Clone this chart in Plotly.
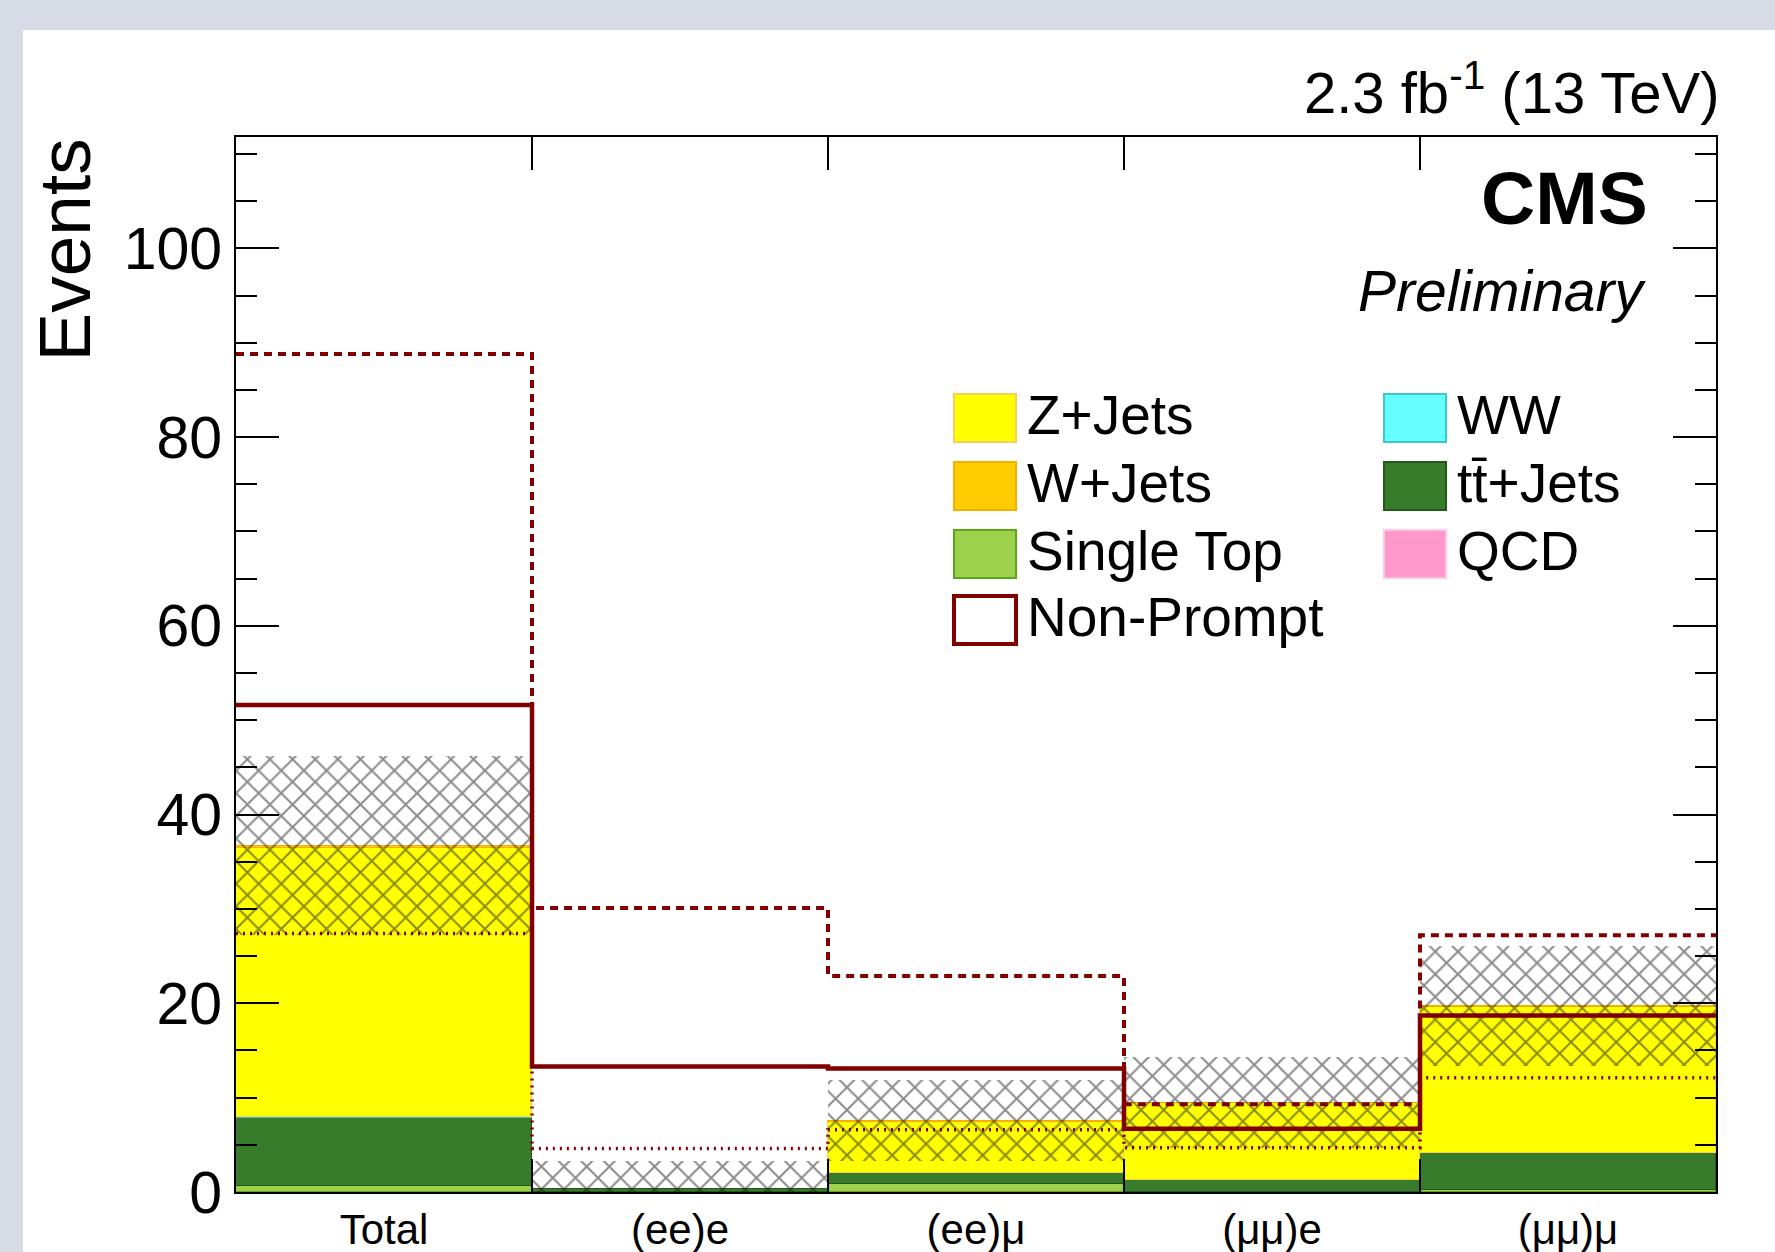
import plotly.graph_objects as go

# ---- data -----------------------------------------------------------------
categories = ["Total", "(ee)e", "(ee)μ", "(μμ)e", "(μμ)μ"]
bin_edges = [0, 1, 2, 3, 4, 5]

# stacked backgrounds (bottom to top)
single_top = [0.6, 0.05, 0.8, 0.03, 0.2]
ttbar_jets = [7.2, 0.25, 1.2, 1.25, 3.9]
ww = [0.1, 0.0, 0.0, 0.0, 0.0]
qcd = [0.0, 0.0, 0.0, 0.0, 0.0]
z_jets = [28.6, 0.0, 5.45, 8.15, 15.5]
w_jets = [0.2, 0.0, 0.1, 0.05, 0.1]
mc_unc = [9.5, 3.0, 4.3, 4.8, 6.4]

# non-prompt estimate with its up / down variations
non_prompt = [51.6, 13.3, 13.1, 6.7, 18.7]
non_prompt_up = [88.8, 30.1, 22.9, 9.3, 27.2]
non_prompt_down = [27.4, 4.6, 6.6, 4.7, 12.1]

y_major_ticks = [0, 20, 40, 60, 80, 100]

# ---- style ----------------------------------------------------------------
FONT = "Liberation Sans, Arial, Helvetica, sans-serif"
NP_RED = "#800000"
stack_specs = [
    ("Single Top", single_top, "#9DD14D", "#5FA51C"),
    ("tt̄+Jets", ttbar_jets, "#367C2B", "#24571C"),
    ("WW", ww, "#66FFFF", "#3CC8C8"),
    ("QCD", qcd, "#FF99CC", "#FFC8E4"),
    ("Z+Jets", z_jets, "#FFFF00", "#FFCC55"),
    ("W+Jets", w_jets, "#FFCC00", "#F5B000"),
]

W, H = 1775, 1252
ML, MR, MT, MB = 236, 59, 137, 60
PW, PH = W - ML - MR, H - MT - MB
Y_MAX = 111.8

def px_x(x):
    return (x - ML) / PW

def px_y(y):
    return (H - MB - y) / PH

centers = [(a + b) / 2 for a, b in zip(bin_edges[:-1], bin_edges[1:])]

fig = go.Figure()

# stacked histogram
for name, vals, fill, edge in stack_specs:
    fig.add_trace(go.Bar(
        x=centers, y=[v if v > 0 else None for v in vals], width=1,
        name=name, marker=dict(color=fill, line=dict(color=edge, width=1.5)),
        showlegend=False, hoverinfo="skip",
    ))

# hatched uncertainty band around the stack total
totals = [sum(s[1][i] for s in stack_specs) for i in range(len(categories))]
band_lo = [max(0.0, t - e) for t, e in zip(totals, mc_unc)]
band_hi = [t + e for t, e in zip(totals, mc_unc)]
fig.add_trace(go.Bar(
    x=centers, y=[h - l for h, l in zip(band_hi, band_lo)], base=band_lo, width=1,
    marker=dict(color="rgba(0,0,0,0)", line=dict(width=0),
                pattern=dict(shape="x", fgcolor="#1a1a1a", bgcolor="rgba(0,0,0,0)",
                             size=16, solidity=0.24)),
    showlegend=False, hoverinfo="skip",
))

# non-prompt outlines
def step(vals):
    return list(vals) + [vals[-1]]

fig.add_trace(go.Scatter(x=bin_edges, y=step(non_prompt_up), mode="lines",
                         line=dict(color=NP_RED, width=4, shape="hv", dash="8px,6px"),
                         showlegend=False, hoverinfo="skip"))
fig.add_trace(go.Scatter(x=bin_edges, y=step(non_prompt_down), mode="lines",
                         line=dict(color=NP_RED, width=3.5, shape="hv", dash="2px,5px"),
                         showlegend=False, hoverinfo="skip"))
fig.add_trace(go.Scatter(x=bin_edges, y=step(non_prompt), mode="lines",
                         line=dict(color=NP_RED, width=4.5, shape="hv"),
                         showlegend=False, hoverinfo="skip"))

# carrier for the category labels axis
fig.add_trace(go.Scatter(x=centers, y=[None] * len(centers), xaxis="x2",
                         mode="markers", showlegend=False, hoverinfo="skip"))

# ---- layout ---------------------------------------------------------------
fig.update_layout(
    width=W, height=H,
    margin=dict(l=ML, r=MR, t=MT, b=MB, pad=0, autoexpand=False),
    paper_bgcolor="#D6DBE6", plot_bgcolor="white",
    barmode="stack", bargap=0,
    font=dict(family=FONT, color="black"),
    xaxis=dict(range=[0, 5], tickvals=bin_edges, showticklabels=False,
               ticks="inside", ticklen=33, tickwidth=2, tickcolor="black",
               showline=True, linecolor="black", linewidth=2, mirror="ticks",
               showgrid=False, zeroline=False, layer="above traces", automargin=False),
    xaxis2=dict(range=[0, 5], overlaying="x", anchor="y", side="bottom",
                tickvals=centers, ticktext=categories, ticks="",
                ticklabelstandoff=9, automargin=False,
                tickfont=dict(size=42, family=FONT, color="black"),
                showline=False, showgrid=False, zeroline=False),
    yaxis=dict(range=[0, Y_MAX], tickvals=y_major_ticks,
               ticks="inside", ticklen=43, tickwidth=2, tickcolor="black",
               minor=dict(dtick=5, ticks="inside", ticklen=21, tickwidth=2,
                          tickcolor="black", showgrid=False),
               tickfont=dict(size=59, family=FONT, color="black"),
               showline=True, linecolor="black", linewidth=2, mirror="ticks",
               showgrid=False, zeroline=False, layer="above traces", automargin=False),
)

shapes = [
    # white canvas panel
    dict(type="rect", xref="paper", yref="paper",
         x0=px_x(23), x1=px_x(W + 5), y0=px_y(H + 5), y1=px_y(30),
         fillcolor="white", line=dict(width=0), layer="below"),
]

annotations = [
    dict(text="2.3 fb<sup>-1</sup> (13 TeV)", xref="paper", yref="paper",
         x=1.0, y=px_y(88), xanchor="right", yanchor="middle", showarrow=False,
         xshift=5,
         font=dict(size=58, family=FONT, color="black")),
    dict(text="<b>CMS</b>", xref="paper", yref="paper",
         x=px_x(1650), y=px_y(198), xanchor="right", yanchor="middle", showarrow=False,
         font=dict(size=75, family=FONT, color="black")),
    dict(text="<i>Preliminary</i>", xref="paper", yref="paper",
         x=px_x(1649), y=px_y(291), xanchor="right", yanchor="middle", showarrow=False,
         font=dict(size=57, family=FONT, color="black")),
    dict(text="Events", xref="paper", yref="paper", textangle=-90,
         x=px_x(64), y=1.0, xanchor="center", yanchor="top", showarrow=False,
         font=dict(size=73, family=FONT, color="black")),
]

# legend, two columns
legend_col1 = [("Z+Jets", "#FFFF00", "#FFCC55"), ("W+Jets", "#FFCC00", "#F5B000"),
               ("Single Top", "#9DD14D", "#5FA51C"), ("Non-Prompt", "white", NP_RED)]
legend_col2 = [("WW", "#66FFFF", "#3CC8C8"), ("tt̄+Jets", "#367C2B", "#24571C"),
               ("QCD", "#FF99CC", "#FFC8E4")]
row_y = [418, 486, 554, 620]
for col, (sx0, sx1, tx) in zip([legend_col1, legend_col2],
                               [(954, 1016, 1025), (1384, 1446, 1455)]):
    for (label, fill, edge), ry in zip(col, row_y):
        lw = 4 if label == "Non-Prompt" else 2
        shapes.append(dict(type="rect", xref="paper", yref="paper",
                           x0=px_x(sx0), x1=px_x(sx1), y0=px_y(ry + 24), y1=px_y(ry - 24),
                           fillcolor=fill, line=dict(color=edge, width=lw), layer="above"))
        annotations.append(dict(text=label, xref="paper", yref="paper",
                                x=px_x(tx), y=px_y(ry - 3), xanchor="left", yanchor="middle",
                                showarrow=False,
                                font=dict(size=55, family=FONT, color="black")))

fig.update_layout(shapes=shapes, annotations=annotations)

fig.write_html("out.html")
